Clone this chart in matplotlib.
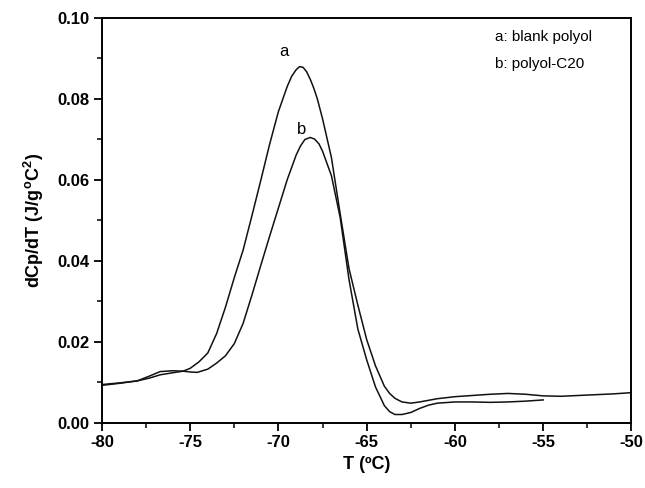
import numpy as np
import matplotlib
matplotlib.use("Agg")
from matplotlib import pyplot as plt
from matplotlib.ticker import MultipleLocator, FormatStrFormatter

# curve a: blank polyol
temp_a = [-80, -79, -78, -77.3, -76.7, -76, -75.4, -75, -74.5, -74, -73.5, -73, -72.5, -72,
          -71.5, -71, -70.5, -70, -69.5, -69.25, -69, -68.8, -68.6, -68.4, -68.2, -68, -67.8,
          -67.5, -67, -66.5, -66, -65.5, -65, -64.5, -64, -63.7, -63.4, -63, -62.5, -62, -61,
          -60, -59, -58, -57, -56, -55, -54, -53, -52, -51, -50]
dcp_a = [0.0094, 0.0098, 0.0103, 0.0110, 0.0118, 0.0123, 0.0127, 0.0134, 0.0150, 0.0172,
         0.0220, 0.0285, 0.0358, 0.0426, 0.0511, 0.0598, 0.0687, 0.0768, 0.0830, 0.0855,
         0.0871, 0.0879, 0.0877, 0.0866, 0.0848, 0.0826, 0.0800, 0.0750, 0.0655, 0.0515,
         0.0380, 0.0290, 0.0205, 0.0140, 0.0090, 0.0072, 0.0060, 0.0051, 0.0048, 0.0051,
         0.0059, 0.0064, 0.0067, 0.0070, 0.0072, 0.0070, 0.0066, 0.0065, 0.0067, 0.0069,
         0.0071, 0.0074]

# curve b: polyol-C20
temp_b = [-80, -79, -78, -77.3, -76.7, -76, -75.4, -75, -74.6, -74, -73.5, -73, -72.5, -72,
          -71.5, -71, -70.5, -70, -69.5, -69, -68.75, -68.5, -68.2, -67.95, -67.7, -67.5, -67,
          -66.5, -66, -65.5, -65, -64.5, -64, -63.7, -63.4, -63, -62.5, -62, -61.5, -61, -60,
          -59, -58, -57, -56, -55]
dcp_b = [0.0092, 0.0097, 0.0103, 0.0115, 0.0126, 0.0128, 0.0127, 0.0125, 0.0124, 0.0132,
         0.0147, 0.0165, 0.0195, 0.0245, 0.0315, 0.0388, 0.0460, 0.0530, 0.0600, 0.0660,
         0.0683, 0.0699, 0.0704, 0.0700, 0.0688, 0.0670, 0.0610, 0.0506, 0.0353, 0.0231,
         0.0155, 0.0088, 0.0042, 0.0027, 0.0020, 0.0020, 0.0025, 0.0035, 0.0043, 0.0048,
         0.0051, 0.0051, 0.0050, 0.0051, 0.0053, 0.0056]

plt.rcParams["font.family"] = ["Liberation Sans", "DejaVu Sans"]
plt.rcParams["mathtext.fontset"] = "custom"
plt.rcParams["mathtext.rm"] = "Liberation Sans:bold"
plt.rcParams["mathtext.default"] = "rm"
plt.rcParams["axes.unicode_minus"] = False

fig = plt.figure(figsize=(6.45, 4.88), dpi=100)
ax = fig.add_axes([0.158, 0.134, 0.821, 0.830])

ax.plot(temp_a, dcp_a, color="#111111", lw=1.1)
ax.plot(temp_b, dcp_b, color="#111111", lw=1.1)

ax.text(-69.7, 0.0916, "a", fontsize=12, ha="center", va="center")
ax.text(-68.7, 0.0723, "b", fontsize=12, ha="center", va="center")
ax.text(-57.75, 0.0953, "a: blank polyol", fontsize=11, ha="left", va="center")
ax.text(-57.75, 0.0886, "b: polyol-C20", fontsize=11, ha="left", va="center")

ax.set_xlim(-80, -50)
ax.set_ylim(0, 0.10)
ax.xaxis.set_major_locator(MultipleLocator(5))
ax.xaxis.set_minor_locator(MultipleLocator(2.5))
ax.yaxis.set_major_locator(MultipleLocator(0.02))
ax.yaxis.set_minor_locator(MultipleLocator(0.01))
ax.yaxis.set_major_formatter(FormatStrFormatter("%.2f"))

ax.tick_params(which="major", direction="out", length=6, width=1.3, labelsize=12, pad=3)
ax.tick_params(which="minor", direction="out", length=3.5, width=1.1)
for lab in ax.get_xticklabels() + ax.get_yticklabels():
    lab.set_fontweight("bold")
for sp in ax.spines.values():
    sp.set_linewidth(1.4)

ax.set_xlabel("T (ºC)", fontsize=13, fontweight="bold", labelpad=4)
ax.set_ylabel(r"dCp/dT (J/g$^{o}$C$^{2}$)", fontsize=13, fontweight="bold", labelpad=8)

fig.savefig("out.png", dpi=100)
